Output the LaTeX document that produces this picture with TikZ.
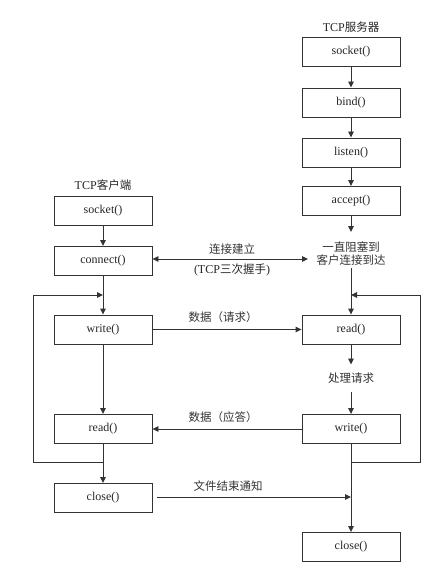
\documentclass[tikz,border=0pt]{standalone}
\usepackage{fontspec}
\setmainfont{Liberation Serif}
\newfontfamily\cjk{Noto Sans CJK SC}
\usetikzlibrary{arrows.meta}
\begin{document}
\begin{tikzpicture}[x=1pt,y=-1pt,
  box/.style={draw=black!80, line width=0.9pt, minimum width=98pt, minimum height=29pt, inner sep=0pt, text=black!85, font=\fontsize{12}{14}\selectfont},
  lbl/.style={inner sep=0pt, text=black!80, font=\cjk\fontsize{11.5}{13}\selectfont},
  ttl/.style={inner sep=0pt, text=black!85, font=\fontsize{12}{14}\selectfont},
  arr/.style={-{Triangle[length=6pt,width=5.5pt]}, line width=0.9pt, draw=black!80},
  ln/.style={line width=0.9pt, draw=black!80}]
\useasboundingbox (0,0) rectangle (429,564);

% server column
\node[ttl] (stitle) at (351,27) {TCP{\cjk\fontsize{11.5}{13}\selectfont 服务器}};
\node[box] (ssock) at (351,52) {socket()};
\node[box] (sbind) at (351,102.5) {bind()};
\node[box] (slisten) at (351,152.5) {listen()};
\node[box] (saccept) at (351,201) {accept()};
\node[lbl, align=center, inner ysep=2pt] (wait) at (351,254) {一直阻塞到\\[0pt]客户连接到达};
\node[box] (sread) at (351,329.5) {read()};
\node[lbl, inner ysep=8pt] (proc) at (351,378) {处理请求};
\node[box] (swrite) at (351,429) {write()};
\node[box] (sclose) at (351,547) {close()};

% client column
\node[ttl] (ctitle) at (103,185) {TCP{\cjk\fontsize{11.5}{13}\selectfont 客户端}};
\node[box] (csock) at (103,210.5) {socket()};
\node[box] (cconn) at (103,261) {connect()};
\node[box] (cwrite) at (103,329.5) {write()};
\node[box] (cread) at (103,429) {read()};
\node[box] (cclose) at (103,498) {close()};

% labels
\node[lbl] (l1) at (232,249) {连接建立};
\node[ttl] (l2) at (232,270) {(TCP{\cjk\fontsize{11.5}{13}\selectfont 三次握手})};
\node[lbl] (l3) at (223,317) {数据（请求）};
\node[lbl] (l4) at (223,417) {数据（应答）};
\node[lbl] (l5) at (228,486) {文件结束通知};

% coordinates
\coordinate (cw) at (308,259);
\coordinate (aend) at (351,232);
\coordinate (cl1) at (103,462);
\coordinate (cl2) at (33,462);
\coordinate (cl3) at (33,295);
\coordinate (cl4) at (103,295);
\coordinate (sl1) at (351,462);
\coordinate (sl2) at (420,462);
\coordinate (sl3) at (420,295);
\coordinate (sl4) at (351,295);
\coordinate (fin) at (351,497);

% server flow
\draw[arr] (ssock) -- (sbind);
\draw[arr] (sbind) -- (slisten);
\draw[arr] (slisten) -- (saccept);
\draw[arr] (saccept) -- (aend);
\draw[arr] (wait) -- (sread);
\draw[arr] (sread) -- (proc);
\draw[arr] (proc) -- (swrite);
\draw[arr] (swrite) -- (sclose);
\draw[arr] (sl1) -- (sl2) -- (sl3) -- (sl4);

% client flow
\draw[arr] (csock) -- (cconn);
\draw[arr] (cconn) -- (cwrite);
\draw[arr] (cwrite) -- (cread);
\draw[arr] (cread) -- (cclose);
\draw[arr] (cl1) -- (cl2) -- (cl3) -- (cl4);

% cross connectors
\draw[{Triangle[length=6pt,width=5.5pt]}-{Triangle[length=6pt,width=5.5pt]}, ln] (cconn.east |- cw) -- (cw);
\draw[arr] (cwrite) -- (sread);
\draw[arr] (swrite) -- (cread);
\draw[arr, shorten <=5pt] (cclose.east |- fin) -- (fin);
\end{tikzpicture}
\end{document}
